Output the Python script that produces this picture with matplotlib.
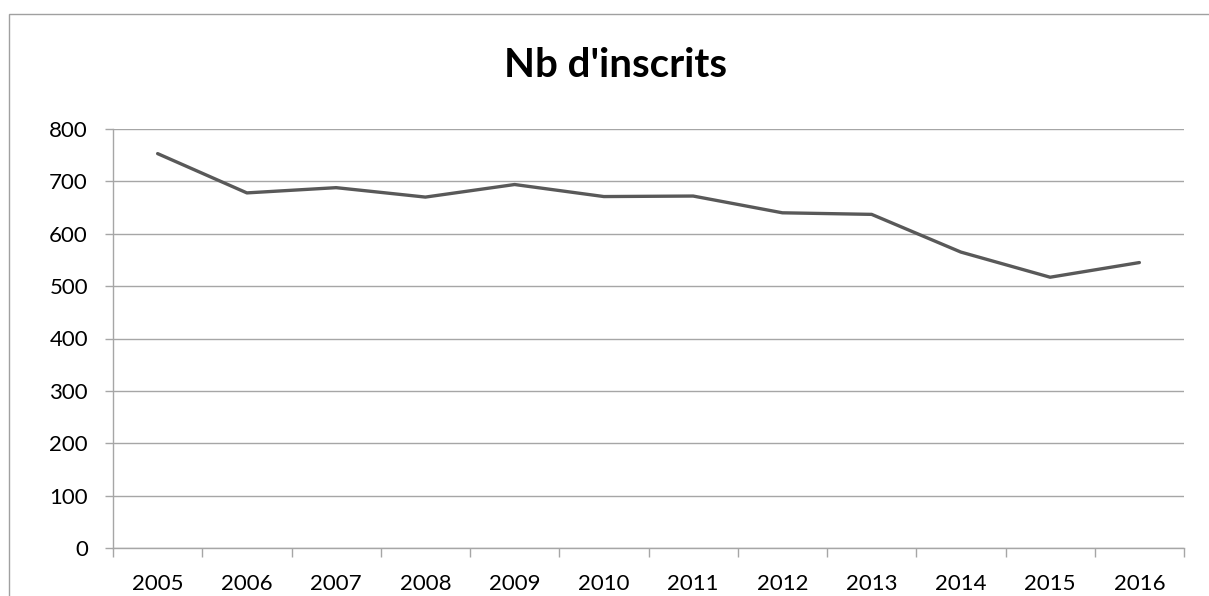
import matplotlib
matplotlib.use("Agg")
import matplotlib.pyplot as plt
from matplotlib.patches import Rectangle
from matplotlib.ticker import FixedLocator, NullFormatter

years = ["2005", "2006", "2007", "2008", "2009", "2010", "2011", "2012", "2013", "2014", "2015", "2016"]
inscrits = [753, 678, 688, 670, 694, 671, 672, 640, 637, 565, 517, 545]
y_ticks = [0, 100, 200, 300, 400, 500, 600, 700, 800]
title = "Nb d'inscrits"

plt.rcParams['font.family'] = ['Lato', 'DejaVu Sans']

fig = plt.figure(figsize=(12.09, 5.96), dpi=100)
ax = fig.add_axes([113/1209, 1-548/596, (1184-113)/1209, (548-129)/596])

x = list(range(len(years)))
ax.plot(x, inscrits, color='#595959', lw=2.4, solid_capstyle='round', solid_joinstyle='round', zorder=3)

ax.set_xlim(-0.5, len(years)-0.5)
ax.set_ylim(0, 800)
ax.set_yticks(y_ticks)
ax.set_yticklabels([str(v) for v in y_ticks], fontsize=16)
ax.yaxis.grid(True, color='#a6a6a6', lw=1)
ax.set_axisbelow(True)

ax.set_xticks(x)
ax.set_xticklabels(years, fontsize=16)
ax.tick_params(axis='x', which='major', length=0, pad=19)
ax.xaxis.set_minor_locator(FixedLocator([i-0.5 for i in range(len(years)+1)]))
ax.xaxis.set_minor_formatter(NullFormatter())
ax.tick_params(axis='x', which='minor', length=6.5, color='#a6a6a6', width=1)
ax.tick_params(axis='y', length=6, color='#a6a6a6', width=1, pad=12)

for s in ['top', 'right']:
    ax.spines[s].set_visible(False)
for s in ['left', 'bottom']:
    ax.spines[s].set_color('#a6a6a6')
    ax.spines[s].set_linewidth(1)

fig.text(615/1209, 1-77/596, title, ha='center', va='baseline', fontsize=29, fontweight='bold')

fig.patches.append(Rectangle((8.5/1209, -0.1), 2.0, 1.1-13.5/596, transform=fig.transFigure,
                             fill=False, edgecolor='#a0a0a0', lw=1))

fig.savefig('out.png', dpi=100)
